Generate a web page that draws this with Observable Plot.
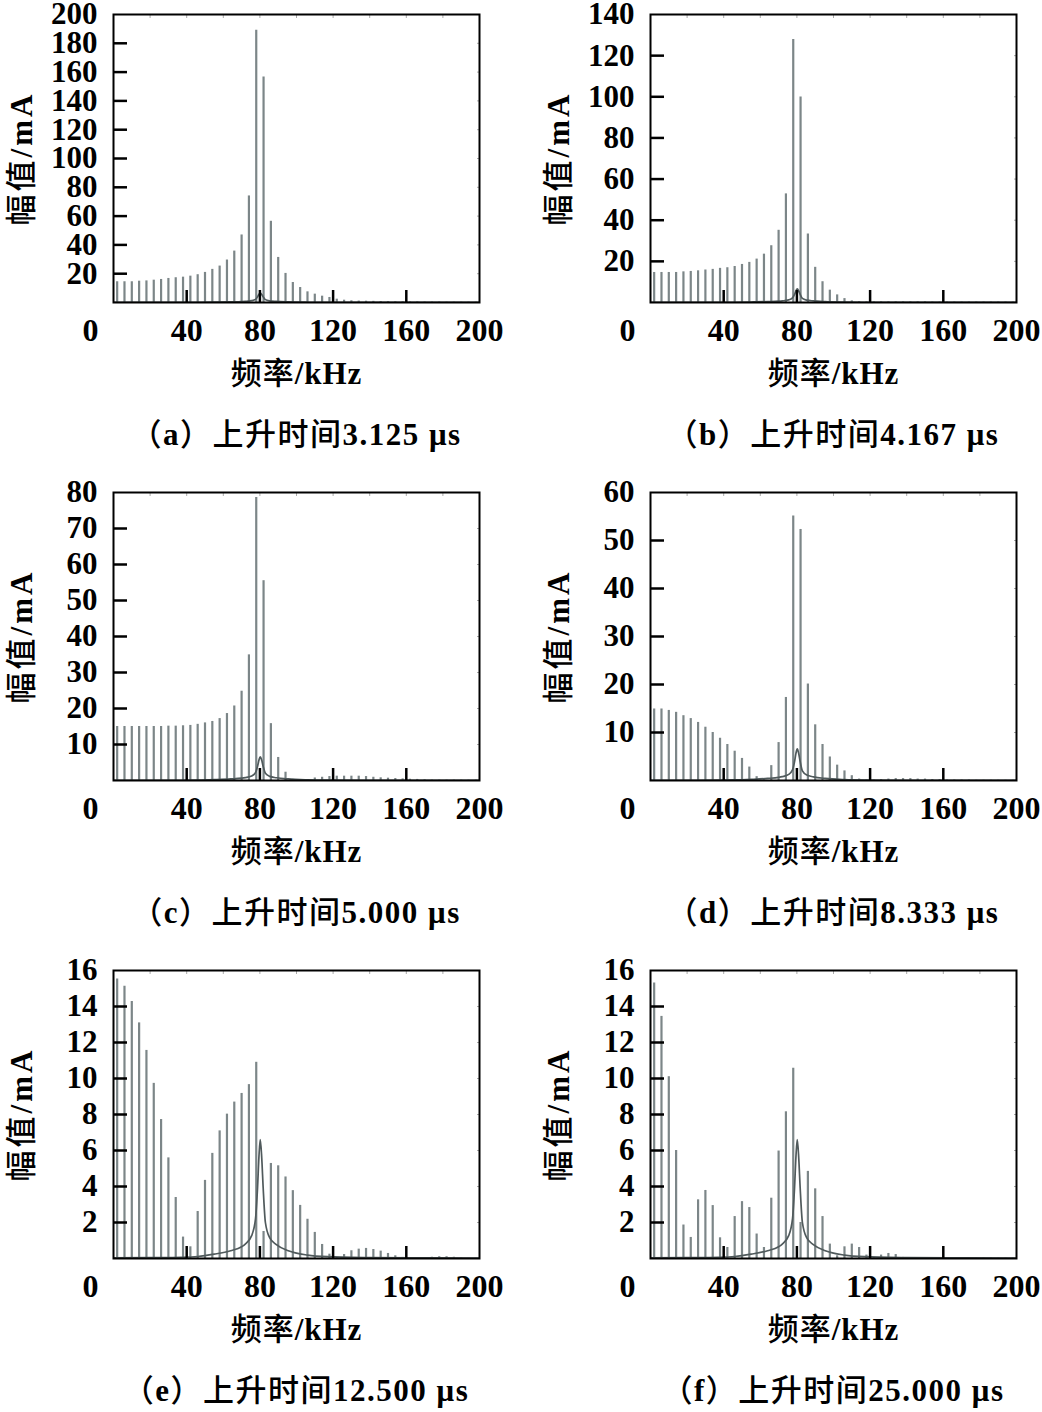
<!DOCTYPE html>
<html><head><meta charset="utf-8">
<script src="https://cdn.jsdelivr.net/npm/d3@7"></script>
<script src="https://cdn.jsdelivr.net/npm/@observablehq/plot@0.6"></script>
<style>
body{margin:0;background:#fff;}
#root{position:relative;width:1042px;height:1412px;background:#fff;overflow:hidden}
.panel{position:absolute;width:505px;height:478px}
.panel svg{position:absolute;left:0;top:0;overflow:visible}
.cap{position:absolute;left:76px;width:440px;top:412px;height:40px;line-height:40px;text-align:center;font-size:31px;letter-spacing:1.5px;color:#000;white-space:nowrap}
.cjk{font-family:"Noto Sans CJK SC",sans-serif;font-weight:500}
.lat{font-family:"Liberation Serif",serif;font-weight:bold}
</style></head><body><div id="root"></div>
<script>
// Harmonic frequencies (kHz)
const freqs = [2,6,10,14,18,22,26,30,34,38,42,46,50,54,58,62,66,70,74,78,82,86,90,94,98,102,106,110,114,118,122,126,130,134,138,142,146,150,154,158,162,166,170,174,178,182,186,190,194,198];

// Harmonic amplitudes (mA) for each rise time
const valsA = [14.4,14.4,14.4,14.8,15,15.5,16,16.7,17.2,17.6, 18.3,19.3,20.9,23,25.3,29.5,35.7,46.9,74,189, 156.6,56.4,31.3,20.2,13.9,10.4,7.4,5.8,4.4,3.5, 2.3,1.6,1.2,1,0.9,0.8,0.7,0.6,0.5,0.5, 0.4,0.4,0.3,0.3,0.3,0.2,0.2,0.2,0.2,0.2];
const valsB = [14.6,14.6,14.6,14.6,14.9,15.1,15.4,15.8,16.1,16.6, 16.9,17.5,18.5,19.5,21.1,23.5,27.6,35.1,52.8,127.8, 99.9,33.3,17.1,10.1,6,3.7,1.9,0.8,0.4,0.3, 0.3,0.3,0.3,0.3,0.3,0.3,0.3,0.3,0.2,0.2, 0.2,0.2,0.2,0.2,0.2,0.2,0.2,0.2,0.2,0.2];
const valsC = [15,15,15,15,15,15,15,15.1,15.1,15.2, 15.3,15.6,16,16.4,17.2,18.6,20.7,24.8,34.9,78.6, 55.5,15.8,6.4,2.3,0.3,0.2,0.1,0.7,0.9,1.1, 1.2,1.2,1.2,1.2,1.1,0.9,0.75,0.65,0.55,0.45, 0.35,0.3,0.2,0.1,0.1,0.1,0.1,0.1,0.1,0.1];
const valsD = [14.9,14.9,14.6,14.2,13.5,12.9,12.1,11.1,10,8.8, 7.5,6.1,4.6,2.8,0.8,0.1,3.1,7.9,17.3,55.1, 52.3,20.1,11.6,7.5,4.9,3.2,2,1,0.3,0.1, 0.1,0.2,0.3,0.4,0.4,0.4,0.3,0.3,0.2,0.2, 0.1,0.1,0.1,0.1,0.05,0.05,0.05,0.05,0.05,0.05];
const valsE = [15.53,15.12,14.28,13.09,11.56,9.73,7.72,5.59,3.39,1.19, 0.65,2.61,4.34,5.84,7.09,8.02,8.69,9.17,9.66,10.9, 1.5,5.28,5.15,4.53,3.77,2.95,2.18,1.45,0.78,0.24, 0.06,0.22,0.43,0.52,0.56,0.5,0.41,0.28,0.15,0.06, 0.01,0.02,0.05,0.07,0.1,0.1,0.07,0.03,0.01,0.01];
const valsF = [15.3,13.45,10.1,6.0,1.86,1.17,3.26,3.78,2.94,1.15, 0.61,2.33,3.16,2.83,1.36,0.61,3.35,5.97,8.15,10.57, 2,4.84,3.87,2.33,0.8,0.15,0.65,0.8,0.61,0.19, 0.06,0.19,0.28,0.22,0.06,0.05,0.05,0.05,0.05,0.05, 0.05,0.04,0.04,0.04,0.03,0.03,0.03,0.02,0.02,0.02];

// Resonance response curve (same in every panel)
const respF = [0,20,37,46,55,64,70,72,75.5,77.6,78.7,79.5,80.2,81,81.8,83,85.4,89,95.5,106,117,140,170,200];
const respV = [0.03,0.05,0.07,0.11,0.24,0.43,0.65,0.8,1.27,2.2,3.9,5.7,6.6,5.6,3.9,2.0,1.14,0.77,0.43,0.19,0.1,0.05,0.03,0.02];

// Axis ticks
const yMaxes = [200,140,80,60,16,16];
const yTicksA = [20,40,60,80,100,120,140,160,180];
const yLabelsA = [20,40,60,80,100,120,140,160,180,200];
const yTicksB = [20,40,60,80,100,120];
const yLabelsB = [20,40,60,80,100,120,140];
const yTicksC = [10,20,30,40,50,60,70];
const yLabelsC = [10,20,30,40,50,60,70,80];
const yTicksD = [10,20,30,40,50];
const yLabelsD = [10,20,30,40,50,60];
const yTicksE = [2,4,6,8,10,12,14];
const yLabelsE = [2,4,6,8,10,12,14,16];
const xTicks = [40,80,120,160];
const xMinor = [20,40,60,80,100,120,140,160,180];
const xLabels = [40,80,120,160,200];
const xZero = [0];

const yTitle = "幅值/mA";
const xTitle = "频率/kHz";
const captions = ["（a）上升时间3.125 μs","（b）上升时间4.167 μs","（c）上升时间5.000 μs","（d）上升时间8.333 μs","（e）上升时间12.500 μs","（f）上升时间25.000 μs"];

const FONT = '"Liberation Serif","Noto Sans CJK SC",serif';
const CJK_RE = /([\u3000-\u9fff\uff00-\uffef]+)/;
const panels = [
  [valsA, yMaxes[0], yTicksA, yLabelsA],
  [valsB, yMaxes[1], yTicksB, yLabelsB],
  [valsC, yMaxes[2], yTicksC, yLabelsC],
  [valsD, yMaxes[3], yTicksD, yLabelsD],
  [valsE, yMaxes[4], yTicksE, yLabelsE],
  [valsF, yMaxes[5], yTicksE, yLabelsE]
];

const curve = respF.map((f, i) => ({f, v: respV[i]}));

function splitSvgText(t, spacing) {
  const s = t.textContent;
  while (t.firstChild) t.removeChild(t.firstChild);
  s.split(CJK_RE).filter(p => p.length).forEach(p => {
    const ts = document.createElementNS("http://www.w3.org/2000/svg", "tspan");
    const isCjk = CJK_RE.test(p);
    ts.setAttribute("font-family", isCjk ? '"Noto Sans CJK SC"' : '"Liberation Serif"');
    ts.setAttribute("font-weight", isCjk ? "500" : "bold");
    ts.textContent = p;
    t.appendChild(ts);
  });
  t.setAttribute("letter-spacing", spacing);
}

function makePanel(vals, yMax, yTicks, yLabels) {
  const data = freqs.map((f, i) => ({f, v: vals[i]}));
  const svg = Plot.plot({
    width: 505, height: 400,
    marginLeft: 113, marginRight: 26, marginTop: 14, marginBottom: 98,
    x: {domain: [0, 200], axis: null},
    y: {domain: [0, yMax], axis: null},
    style: {fontFamily: FONT, fontSize: "32px", background: "white", color: "black", overflow: "visible"},
    marks: [
      Plot.ruleX(data, {x: "f", y1: 0, y2: "v", stroke: "#7c8688", strokeWidth: 2.2, clip: true}),
      Plot.line(curve, {x: "f", y: "v", stroke: "#505a5c", strokeWidth: 1.7, curve: "monotone-x", clip: true}),
      Plot.axisY({ticks: yTicks, anchor: "left", tickSize: 14, dx: 14, fill: "none", stroke: "black", strokeWidth: 2.5, label: null}),
      Plot.axisY({ticks: yTicks, anchor: "right", tickSize: 3, dx: -3, fill: "none", stroke: "#aaa", strokeWidth: 1, label: null}),
      Plot.axisX({ticks: xTicks, anchor: "bottom", tickSize: 12, dy: -12, fill: "none", stroke: "black", strokeWidth: 2.5, label: null}),
      Plot.axisX({ticks: xMinor, anchor: "top", tickSize: 3, dy: 3, fill: "none", stroke: "#aaa", strokeWidth: 1, label: null}),
      Plot.frame({stroke: "black", strokeWidth: 2}),
      Plot.text(yLabels, {y: d => d, frameAnchor: "left", dx: -16, textAnchor: "end", lineAnchor: "middle", text: d => String(d), fontSize: 31, fontWeight: "bold"}),
      Plot.text(xLabels, {x: d => d, frameAnchor: "bottom", dy: 28, lineAnchor: "middle", text: d => String(d), fontSize: 32, fontWeight: "bold"}),
      Plot.text(xZero, {x: d => d, frameAnchor: "bottom", dy: 28, dx: -23, lineAnchor: "middle", text: d => String(d), fontSize: 32, fontWeight: "bold"}),
      Plot.text([yTitle], {frameAnchor: "left", dx: -91, rotate: -90, textAnchor: "middle", lineAnchor: "middle", text: d => d, fontSize: 31}),
      Plot.text([xTitle], {frameAnchor: "bottom", dy: 72, textAnchor: "middle", lineAnchor: "middle", text: d => d, fontSize: 31})
    ]
  });
  svg.querySelectorAll("text").forEach(t => {
    if (t.textContent === yTitle) splitSvgText(t, "3");
    else if (t.textContent === xTitle) splitSvgText(t, "1");
  });
  return svg;
}

const root = document.getElementById("root");
panels.forEach((p, i) => {
  const col = i % 2, row = Math.floor(i / 2);
  const div = document.createElement("div");
  div.className = "panel";
  div.style.left = (col * 537) + "px";
  div.style.top = (row * 478) + "px";
  div.appendChild(makePanel(...p));
  const cap = document.createElement("div");
  cap.className = "cap";
  captions[i].split(CJK_RE).filter(s => s.length).forEach(s => {
    const span = document.createElement("span");
    span.className = CJK_RE.test(s) ? "cjk" : "lat";
    span.textContent = s;
    cap.appendChild(span);
  });
  div.appendChild(cap);
  root.appendChild(div);
});
</script>
</body></html>
